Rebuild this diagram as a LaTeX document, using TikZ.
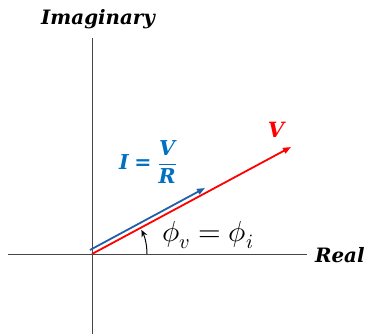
\documentclass[tikz,border=0pt]{standalone}
\usepackage{amsmath}
\usepackage{fontspec}
\usepackage{unicode-math}
\setmainfont{DejaVu Serif}
\setmathfont{Latin Modern Math}
\usetikzlibrary{arrows.meta}
\definecolor{axisgray}{RGB}{70,70,70}
\definecolor{vred}{RGB}{255,0,0}
\definecolor{iblue}{RGB}{31,96,168}
\definecolor{tblue}{RGB}{0,112,192}
\newcommand{\bi}[1]{\mbox{\bfseries\itshape #1}}
\begin{document}
\begin{tikzpicture}[x=1pt,y=1pt,
  axis/.style={draw=axisgray,line width=0.8pt},
  phasor/.style={line width=1.8pt,-{Triangle[length=8pt,width=6pt]}},
  axlabel/.style={font=\fontsize{19.8}{22}\selectfont\bfseries\itshape,inner sep=0pt}]
\useasboundingbox (0,0) rectangle (365,334);
% axes
\coordinate (ytop) at (92,296);
\coordinate (ybot) at (92,0);
\coordinate (xleft) at (8,80);
\coordinate (xright) at (307,80);
\draw[axis] (ybot) -- (ytop);
\draw[axis] (xleft) -- (xright);
\node[axlabel] (imag) at (98,315) {Imaginary};
\node[axlabel,anchor=west] (real) at (315,79) {Real};
% phasors
\coordinate (O) at (92,80);
\coordinate (Vend) at (291,187);
\coordinate (Ostart) at (90,84);
\coordinate (Iend) at (205,146);
\draw[phasor,iblue] (Ostart) -- (Iend);
\draw[phasor,vred] (O) -- (Vend);
% labels
\node[font=\fontsize{21}{24}\selectfont\bfseries\itshape,text=vred,inner sep=0pt] (vlab) at (276,204) {V};
\node[text=tblue,inner sep=0pt,font=\fontsize{20.5}{24}\selectfont] (ilab) at (148,172) {$\bi{I}\;\mbox{\bfseries =}\;\dfrac{\bi{V}}{\bi{R}}$};
% angle
\coordinate (arcstart) at (147,80);
\draw[black,line width=1pt,-{Stealth[length=7pt,width=6pt]}] (arcstart) arc[start angle=0,end angle=26,radius=55];
\node[inner sep=0pt,font=\fontsize{29}{32}\selectfont] (phlab) at (208,99) {$\phi_v=\phi_i$};
\end{tikzpicture}
\end{document}
